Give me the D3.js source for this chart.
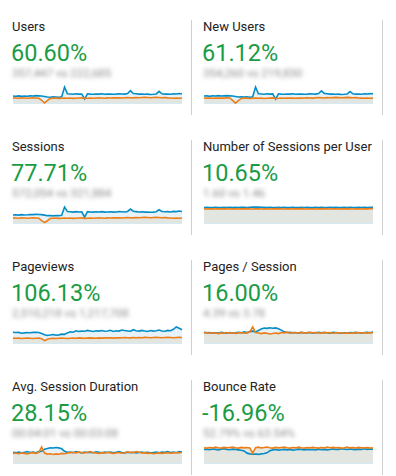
<!DOCTYPE html>
<meta charset="utf-8">
<style>
body { margin: 0; background: #fff; }
text { font-family: Roboto, "Noto Sans", sans-serif; }
.title { font-size: 13px; fill: #222; }
.pct { font-size: 23.5px; fill: #1a9c45; }
.sub { font-size: 11.5px; fill: #8a8a8a; }
.divider { stroke: #cfcfcf; stroke-width: 1; }
</style>
<body>
<script src="https://d3js.org/d3.v7.min.js"></script>
<script>
// metric titles, change labels and (blurred) comparison text
var titles = ["Users", "New Users", "Sessions", "Number of Sessions per User",
              "Pageviews", "Pages / Session", "Avg. Session Duration", "Bounce Rate"];
var changes = ["60.60%", "61.12%", "77.71%", "10.65%", "106.13%", "16.00%", "28.15%", "-16.96%"];
var compare = ["357,447 vs 222,685", "354,260 vs 219,830", "572,054 vs 321,884", "1.60 vs 1.46",
               "2,510,218 vs 1,217,708", "4.39 vs 3.78", "00:04:01 vs 00:03:08", "52.79% vs 63.54%"];

// daily series, blue = current period, orange = previous period
var usersBlue = [47,46,48,45,47,46,48,47,49,48, 47,44,41,40,42,41,40,43,100,60, 59,57,60,58,59,30,60,58,57,59, 58,60,57,58,59,57,58,60,59,58, 61,78,62,60,58,59,57,58,56,57, 59,74,60,58,59,57,60,59,62,60];
var usersOrange = [36,35,34,36,35,34,35,36,35,34, 22,6,20,33,34,35,33,34,35,34, 35,33,34,35,36,33,34,35,34,35, 36,35,34,36,35,36,37,36,35,37, 38,37,36,38,37,38,39,38,37,38, 39,38,37,38,36,35,34,35,34,35];
var newUsersBlue = [46,47,45,47,46,48,46,47,48,47, 46,43,40,41,40,42,39,42,98,59, 58,56,59,57,58,28,59,57,56,58, 57,59,56,57,58,56,57,59,58,57, 60,76,61,59,57,58,56,57,55,56, 58,72,59,57,58,56,59,58,60,59];
var newUsersOrange = [35,34,35,33,35,34,35,34,36,35, 21,5,19,32,33,34,32,33,34,33, 34,32,33,34,35,32,33,34,33,34, 35,34,33,35,34,35,36,35,34,36, 37,36,35,37,36,37,38,37,36,37, 38,37,36,37,35,34,33,34,33,34];
var sessionsBlue = [53,54,52,55,53,54,56,55,57,56, 55,52,49,50,48,50,49,51,100,73, 72,70,73,71,72,40,73,71,70,72, 71,73,70,71,72,70,71,73,72,71, 74,88,75,73,71,72,70,71,69,70, 72,84,74,72,73,71,74,73,76,74];
var sessionsOrange = [36,35,34,36,35,34,35,36,35,34, 20,8,19,33,34,35,33,34,35,34, 35,33,34,35,36,33,34,35,34,35, 36,35,34,36,35,36,37,36,35,37, 38,37,36,38,37,38,39,38,37,38, 39,38,37,38,36,35,34,35,34,35];
var perUserBlue = [1.60,1.61,1.59,1.60,1.62,1.60,1.59,1.61,1.60,1.62, 1.59,1.61,1.60,1.62,1.61,1.60,1.63,1.64,1.65,1.64, 1.63,1.62,1.60,1.61,1.59,1.60,1.62,1.60,1.61,1.59, 1.60,1.61,1.60,1.59,1.61,1.60,1.62,1.60,1.59,1.61, 1.60,1.61,1.59,1.60,1.62,1.60,1.61,1.59,1.60,1.61, 1.60,1.62,1.60,1.59,1.61,1.60,1.61,1.60,1.62,1.61];
var perUserOrange = [1.47,1.46,1.48,1.47,1.46,1.48,1.47,1.49,1.47,1.46, 1.48,1.47,1.46,1.48,1.47,1.49,1.47,1.46,1.48,1.47, 1.46,1.48,1.47,1.46,1.48,1.47,1.49,1.47,1.46,1.48, 1.47,1.46,1.48,1.47,1.49,1.47,1.46,1.48,1.47,1.46, 1.48,1.47,1.49,1.47,1.46,1.48,1.47,1.46,1.48,1.47, 1.49,1.47,1.46,1.48,1.47,1.46,1.48,1.47,1.49,1.48];
var pageviewsBlue = [66,64,65,60,62,64,63,65,66,64, 58,52,48,50,53,49,51,55,54,62, 68,66,74,70,72,71,76,73,70,74, 72,75,71,73,77,70,74,72,78,75, 73,71,80,74,72,76,73,70,75,72, 74,78,73,71,76,74,82,95,88,80];
var pageviewsOrange = [33,32,33,31,32,33,32,31,32,33, 30,19,27,31,32,31,32,33,32,31, 32,33,32,34,33,32,33,34,33,32, 34,33,34,35,34,33,35,34,35,36, 35,34,36,35,36,35,37,36,35,36, 37,36,35,36,37,36,35,36,37,36];
var pagesBlue = [68,64,66,62,65,63,67,64,62,66, 63,65,68,64,70,66,72,74,70,78, 86,92,90,94,91,93,88,80,70,66, 68,64,66,63,67,65,64,66,62,65, 67,64,66,65,63,68,66,64,62,65, 63,66,64,67,65,63,66,68,64,70];
var pagesOrange = [64,66,62,65,63,60,64,62,66,63, 65,61,64,66,62,64,70,98,66,63, 60,64,62,58,61,63,60,66,64,68, 62,66,64,65,67,63,66,68,64,66, 65,63,67,64,66,62,64,65,63,62, 64,62,65,63,66,64,65,63,66,65];
var durationBlue = [66,64,68,63,66,70,65,68,64,70, 72,84,88,92,90,93,91,86,72,66, 68,64,70,66,63,68,65,67,64,69, 66,63,67,65,68,64,66,70,65,63, 67,64,66,62,65,68,64,66,63,65, 67,64,68,66,70,65,68,64,70,67];
var durationOrange = [60,62,58,63,60,57,62,64,60,66, 96,62,56,58,54,57,55,60,58,62, 64,66,62,68,64,62,66,70,64,62, 60,64,62,66,63,60,62,65,61,64, 68,66,64,70,66,62,64,60,62,58, 61,63,60,62,64,61,63,65,62,66];
var bounceBlue = [80,82,79,83,81,78,82,84,80,79, 82,80,78,76,72,60,56,54,55,53,56,58,62,74,78,80,77,79,81,78, 80,77,79,82,80,78,81,79,80,78, 82,79,81,78,80,83,80,81,84,82, 80,83,81,79,82,80,84,81,83,82];
var bounceOrange = [90,88,91,89,93,90,88,92,89,91, 93,90,88,92,89,91,88,60,90,93, 89,91,94,90,88,92,89,91,93,90, 88,91,89,93,90,88,91,89,92,90, 88,91,89,93,90,92,89,91,88,90, 93,89,91,88,92,90,89,91,88,90];

var blues = [usersBlue, newUsersBlue, sessionsBlue, perUserBlue, pageviewsBlue, pagesBlue, durationBlue, bounceBlue];
var oranges = [usersOrange, newUsersOrange, sessionsOrange, perUserOrange, pageviewsOrange, pagesOrange, durationOrange, bounceOrange];

var W = 396, H = 476;
var colX = [13, 204], chartW = 169, chartH = 17, rowH = 120;

var svg = d3.select("body").append("svg")
    .attr("width", W)
    .attr("height", H);

svg.append("defs").append("filter")
    .attr("id", "blur")
    .attr("x", "-10%").attr("y", "-60%").attr("width", "120%").attr("height", "220%")
  .append("feGaussianBlur")
    .attr("stdDeviation", 2.2);

// dividers between the columns
for (var r = 0; r < 4; r++) {
  [191.5, 382.5].forEach(function(x) {
    svg.append("line").attr("class", "divider")
      .attr("x1", x).attr("x2", x)
      .attr("y1", 20 + r * rowH).attr("y2", 115 + r * rowH);
  });
}

titles.forEach(function(t, i) {
  var row = Math.floor(i / 2), col = i % 2;
  var x0 = colX[col] - 1, top = row * rowH;
  var g = svg.append("g");

  g.append("text").attr("class", "title").attr("x", x0).attr("y", top + 31).text(t);
  g.append("text").attr("class", "pct").attr("x", x0 - 1).attr("y", top + 61).text(changes[i]);
  g.append("text").attr("class", "sub").attr("x", x0).attr("y", top + 77)
    .attr("filter", "url(#blur)").text(compare[i]);

  var blue = blues[i], orange = oranges[i];
  var bottom = top + 104;
  var x = d3.scaleLinear().domain([0, blue.length - 1]).range([colX[col], colX[col] + chartW]);
  var y = d3.scaleLinear().domain([0, d3.max(blue.concat(orange))]).range([bottom, bottom - chartH]);

  var area = d3.area()
    .x(function(d, j) { return x(j); })
    .y0(bottom)
    .y1(function(d) { return y(d); });
  var line = d3.line()
    .x(function(d, j) { return x(j); })
    .y(function(d) { return y(d); });

  g.append("path").datum(blue).attr("d", area).attr("fill", "#e6f2f7");
  g.append("path").datum(orange).attr("d", area).attr("fill", "#e2e3dd").attr("fill-opacity", 0.9);
  g.append("line")
    .attr("x1", colX[col]).attr("x2", colX[col] + chartW)
    .attr("y1", bottom - 0.5).attr("y2", bottom - 0.5)
    .attr("stroke", "#d6eaf3").attr("stroke-width", 1);

  g.append("path").datum(blue).attr("d", line)
    .attr("fill", "none").attr("stroke", "#058dc7").attr("stroke-width", 1.6);
  g.append("path").datum(orange).attr("d", line)
    .attr("fill", "none").attr("stroke", "#ed7e17").attr("stroke-width", 1.6);
});
</script>
</body>
